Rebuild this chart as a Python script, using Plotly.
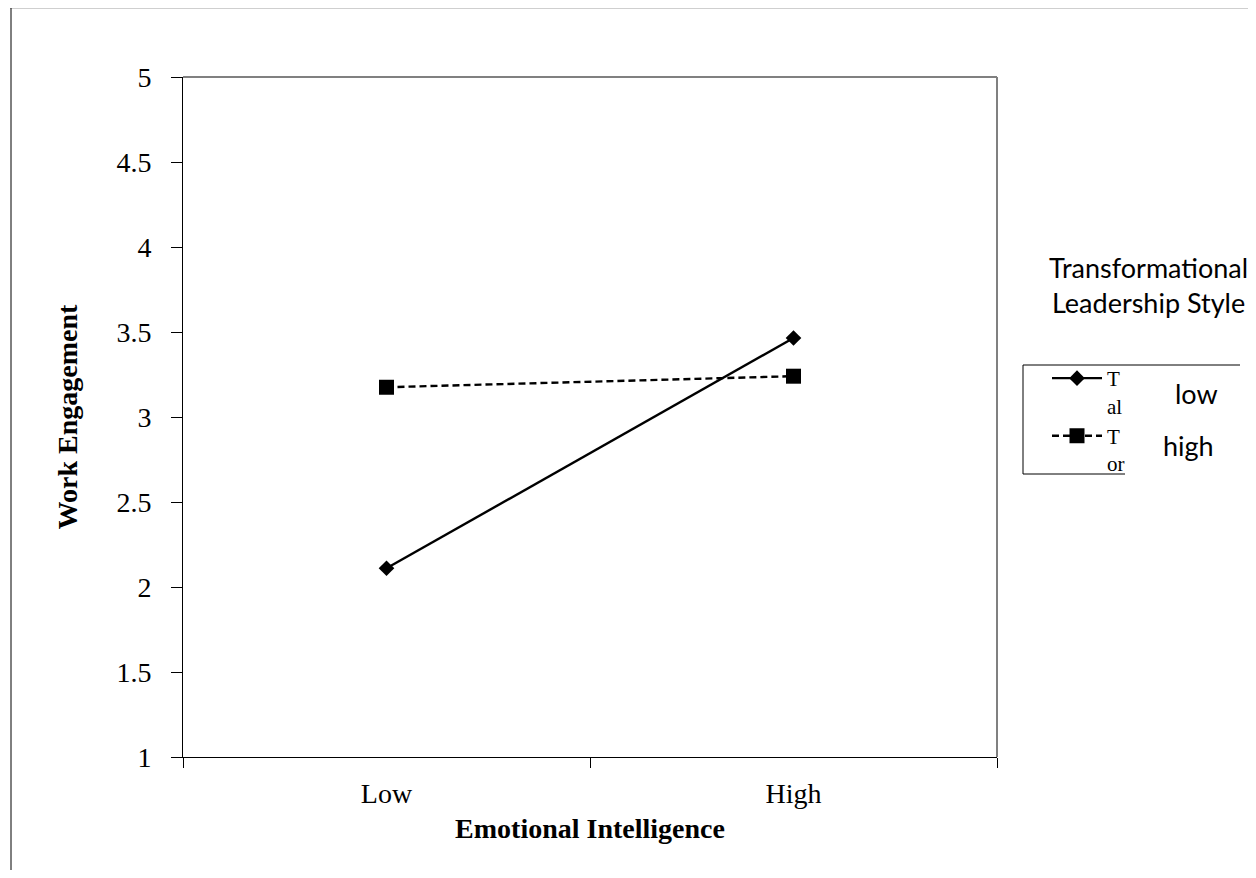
import plotly.graph_objects as go

# Data
categories = ["Low", "High"]
low_tl = [2.11, 3.465]     # Transformational leadership low (solid, diamond)
high_tl = [3.175, 3.24]    # Transformational leadership high (dashed, square)
y_ticks = [1, 1.5, 2, 2.5, 3, 3.5, 4, 4.5, 5]
series_names = ["T<br>al", "T<br>or"]

SERIF = "Liberation Serif, Times New Roman, serif"
SANS = "Lato, Carlito, Calibri, sans-serif"

fig = go.Figure()
fig.add_trace(go.Scatter(
    x=categories, y=low_tl, name=series_names[0], mode="lines+markers",
    line=dict(color="black", width=2.4, dash="solid"),
    marker=dict(symbol="diamond", size=12, color="black"),
))
fig.add_trace(go.Scatter(
    x=categories, y=high_tl, name=series_names[1], mode="lines+markers",
    line=dict(color="black", width=2.4, dash="7px,4px"),
    marker=dict(symbol="square", size=15, color="black"),
))

# page has an 8px body margin; screenshot coords = figure coords + 8
OFF = 8
W, H = 1256 - 2 * OFF, 878 - 2 * OFF
L, R, T, B = 183, 997, 77, 757   # plot area in screenshot coords

def px(x):
    return (x - L) / (R - L)

def py(y):
    return (B - y) / (B - T)

fig.update_layout(
    width=W, height=H,
    margin=dict(l=L - OFF, r=W - (R - OFF), t=T - OFF, b=H - (B - OFF), autoexpand=False),
    paper_bgcolor="white", plot_bgcolor="white",
    font=dict(family=SERIF, size=28, color="black"),
    showlegend=True,
    legend=dict(
        x=px(1047), y=py(358), xanchor="left", yanchor="top",
        bgcolor="rgba(0,0,0,0)", borderwidth=0,
        font=dict(family=SERIF, size=21, color="black"),
        valign="top", tracegroupgap=0, itemwidth=50,
    ),
    xaxis=dict(
        type="category", range=[-0.5, 1.5], tickson="boundaries",
        showline=True, linecolor="black", linewidth=1,
        ticks="outside", ticklen=10, tickcolor="black", tickwidth=1,
        showgrid=False, zeroline=False,
        tickfont=dict(family=SERIF, size=28),
        ticklabelstandoff=11,
        title=dict(text="<b>Emotional Intelligence</b>", standoff=10,
                   font=dict(family=SERIF, size=28)),
    ),
    yaxis=dict(
        range=[1, 5], tickvals=y_ticks, ticktext=[f"{v:g}" for v in y_ticks],
        showline=True, linecolor="black", linewidth=1,
        ticks="outside", ticklen=11, tickcolor="black", tickwidth=1,
        showgrid=False, zeroline=False,
        tickfont=dict(family=SERIF, size=28),
        ticklabelstandoff=14,
        title=dict(text="<b>Work Engagement</b>", standoff=30,
                   font=dict(family=SERIF, size=28)),
    ),
    shapes=[
        # gray top and right frame of plot area
        dict(type="line", xref="paper", yref="paper", x0=0, x1=1, y0=1, y1=1,
             line=dict(color="#808080", width=2)),
        dict(type="line", xref="paper", yref="paper", x0=1, x1=1, y0=0, y1=1,
             line=dict(color="#808080", width=2)),
        # outer page frame
        dict(type="line", xref="paper", yref="paper", x0=px(10), x1=px(1256),
             y0=py(8), y1=py(8), line=dict(color="#A0A0A0", width=1)),
        dict(type="line", xref="paper", yref="paper", x0=px(11), x1=px(11),
             y0=py(8), y1=py(878), line=dict(color="black", width=1)),
        # legend box (open on right side)
        dict(type="line", xref="paper", yref="paper", x0=px(1023), x1=px(1240),
             y0=py(365), y1=py(365), line=dict(color="black", width=1)),
        dict(type="line", xref="paper", yref="paper", x0=px(1023), x1=px(1023),
             y0=py(365), y1=py(474), line=dict(color="black", width=1)),
        dict(type="line", xref="paper", yref="paper", x0=px(1023), x1=px(1125),
             y0=py(474), y1=py(474), line=dict(color="black", width=1)),
    ],
    annotations=[
        dict(text="Transformational<br>Leadership Style", xref="paper", yref="paper",
             x=px(1148), y=py(285), xanchor="center", yanchor="middle",
             showarrow=False, align="center",
             font=dict(family=SANS, size=27, color="black")),
        dict(text="low", xref="paper", yref="paper", x=px(1196), y=py(393),
             xanchor="center", yanchor="middle", showarrow=False,
             font=dict(family=SANS, size=27, color="black")),
        dict(text="high", xref="paper", yref="paper", x=px(1188), y=py(445),
             xanchor="center", yanchor="middle", showarrow=False,
             font=dict(family=SANS, size=27, color="black")),
    ],
)

fig.write_html("out.html")
